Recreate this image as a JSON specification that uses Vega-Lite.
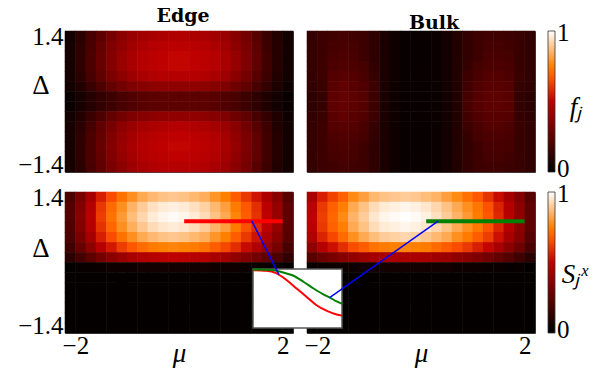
{
"$schema": "https://vega.github.io/schema/vega-lite/v6.json",
"background": "white",
"padding": {"left": 17, "top": 6, "right": 2, "bottom": 1},
"config": {
 "font": "Liberation Serif",
 "view": {"stroke": "#444", "strokeWidth": 1},
 "axis": {"labelFont": "Liberation Serif", "labelFontSize": 25, "labelColor": "#000", "titleFont": "Liberation Serif", "titleFontSize": 27, "titleFontWeight": "normal", "titleColor": "#000", "ticks": false, "domain": false, "grid": false, "labelFlush": false, "labelOverlap": false},
 "legend": {"orient": "right", "offset": 13, "padding": 0, "gradientLength": 141, "gradientThickness": 7, "gradientStrokeColor": "#333", "gradientStrokeWidth": 0.8, "labelFont": "Liberation Serif", "labelFontSize": 25, "labelColor": "#000", "labelOffset": 3},
 "title": {"font": "DejaVu Serif", "fontSize": 19, "fontWeight": "bold", "color": "#000", "baseline": "alphabetic", "offset": -2, "anchor": "middle"}
},
"datasets": {
"tl": [
{"x":-2.1,"y":1.3,"v":0.05},{"x":-1.9,"y":1.3,"v":0.11},{"x":-1.7,"y":1.3,"v":0.18},{"x":-1.5,"y":1.3,"v":0.24},{"x":-1.3,"y":1.3,"v":0.31},{"x":-1.1,"y":1.3,"v":0.36},{"x":-0.9,"y":1.3,"v":0.4},{"x":-0.7,"y":1.3,"v":0.42},{"x":-0.5,"y":1.3,"v":0.44},{"x":-0.3,"y":1.3,"v":0.45},{"x":-0.1,"y":1.3,"v":0.46},{"x":0.1,"y":1.3,"v":0.46},{"x":0.3,"y":1.3,"v":0.45},{"x":0.5,"y":1.3,"v":0.44},{"x":0.7,"y":1.3,"v":0.42},{"x":0.9,"y":1.3,"v":0.4},{"x":1.1,"y":1.3,"v":0.35},{"x":1.3,"y":1.3,"v":0.3},{"x":1.5,"y":1.3,"v":0.23},{"x":1.7,"y":1.3,"v":0.15},{"x":1.9,"y":1.3,"v":0.09},{"x":2.1,"y":1.3,"v":0.05},
{"x":-2.1,"y":1.1,"v":0.06},{"x":-1.9,"y":1.1,"v":0.12},{"x":-1.7,"y":1.1,"v":0.19},{"x":-1.5,"y":1.1,"v":0.26},{"x":-1.3,"y":1.1,"v":0.33},{"x":-1.1,"y":1.1,"v":0.38},{"x":-0.9,"y":1.1,"v":0.42},{"x":-0.7,"y":1.1,"v":0.45},{"x":-0.5,"y":1.1,"v":0.47},{"x":-0.3,"y":1.1,"v":0.48},{"x":-0.1,"y":1.1,"v":0.49},{"x":0.1,"y":1.1,"v":0.49},{"x":0.3,"y":1.1,"v":0.48},{"x":0.5,"y":1.1,"v":0.47},{"x":0.7,"y":1.1,"v":0.45},{"x":0.9,"y":1.1,"v":0.42},{"x":1.1,"y":1.1,"v":0.37},{"x":1.3,"y":1.1,"v":0.32},{"x":1.5,"y":1.1,"v":0.24},{"x":1.7,"y":1.1,"v":0.16},{"x":1.9,"y":1.1,"v":0.1},{"x":2.1,"y":1.1,"v":0.05},
{"x":-2.1,"y":0.9,"v":0.06},{"x":-1.9,"y":0.9,"v":0.12},{"x":-1.7,"y":0.9,"v":0.2},{"x":-1.5,"y":0.9,"v":0.27},{"x":-1.3,"y":0.9,"v":0.34},{"x":-1.1,"y":0.9,"v":0.4},{"x":-0.9,"y":0.9,"v":0.44},{"x":-0.7,"y":0.9,"v":0.47},{"x":-0.5,"y":0.9,"v":0.49},{"x":-0.3,"y":0.9,"v":0.5},{"x":-0.1,"y":0.9,"v":0.51},{"x":0.1,"y":0.9,"v":0.51},{"x":0.3,"y":0.9,"v":0.5},{"x":0.5,"y":0.9,"v":0.49},{"x":0.7,"y":0.9,"v":0.47},{"x":0.9,"y":0.9,"v":0.44},{"x":1.1,"y":0.9,"v":0.39},{"x":1.3,"y":0.9,"v":0.33},{"x":1.5,"y":0.9,"v":0.25},{"x":1.7,"y":0.9,"v":0.17},{"x":1.9,"y":0.9,"v":0.1},{"x":2.1,"y":0.9,"v":0.05},
{"x":-2.1,"y":0.7,"v":0.06},{"x":-1.9,"y":0.7,"v":0.12},{"x":-1.7,"y":0.7,"v":0.2},{"x":-1.5,"y":0.7,"v":0.27},{"x":-1.3,"y":0.7,"v":0.34},{"x":-1.1,"y":0.7,"v":0.4},{"x":-0.9,"y":0.7,"v":0.44},{"x":-0.7,"y":0.7,"v":0.47},{"x":-0.5,"y":0.7,"v":0.49},{"x":-0.3,"y":0.7,"v":0.5},{"x":-0.1,"y":0.7,"v":0.51},{"x":0.1,"y":0.7,"v":0.51},{"x":0.3,"y":0.7,"v":0.5},{"x":0.5,"y":0.7,"v":0.49},{"x":0.7,"y":0.7,"v":0.47},{"x":0.9,"y":0.7,"v":0.44},{"x":1.1,"y":0.7,"v":0.39},{"x":1.3,"y":0.7,"v":0.33},{"x":1.5,"y":0.7,"v":0.25},{"x":1.7,"y":0.7,"v":0.17},{"x":1.9,"y":0.7,"v":0.1},{"x":2.1,"y":0.7,"v":0.05},
{"x":-2.1,"y":0.5,"v":0.06},{"x":-1.9,"y":0.5,"v":0.11},{"x":-1.7,"y":0.5,"v":0.19},{"x":-1.5,"y":0.5,"v":0.25},{"x":-1.3,"y":0.5,"v":0.32},{"x":-1.1,"y":0.5,"v":0.37},{"x":-0.9,"y":0.5,"v":0.41},{"x":-0.7,"y":0.5,"v":0.44},{"x":-0.5,"y":0.5,"v":0.46},{"x":-0.3,"y":0.5,"v":0.47},{"x":-0.1,"y":0.5,"v":0.47},{"x":0.1,"y":0.5,"v":0.47},{"x":0.3,"y":0.5,"v":0.47},{"x":0.5,"y":0.5,"v":0.46},{"x":0.7,"y":0.5,"v":0.44},{"x":0.9,"y":0.5,"v":0.41},{"x":1.1,"y":0.5,"v":0.36},{"x":1.3,"y":0.5,"v":0.31},{"x":1.5,"y":0.5,"v":0.23},{"x":1.7,"y":0.5,"v":0.16},{"x":1.9,"y":0.5,"v":0.09},{"x":2.1,"y":0.5,"v":0.05},
{"x":-2.1,"y":0.3,"v":0.05},{"x":-1.9,"y":0.3,"v":0.09},{"x":-1.7,"y":0.3,"v":0.15},{"x":-1.5,"y":0.3,"v":0.2},{"x":-1.3,"y":0.3,"v":0.26},{"x":-1.1,"y":0.3,"v":0.3},{"x":-0.9,"y":0.3,"v":0.33},{"x":-0.7,"y":0.3,"v":0.35},{"x":-0.5,"y":0.3,"v":0.37},{"x":-0.3,"y":0.3,"v":0.38},{"x":-0.1,"y":0.3,"v":0.38},{"x":0.1,"y":0.3,"v":0.38},{"x":0.3,"y":0.3,"v":0.38},{"x":0.5,"y":0.3,"v":0.37},{"x":0.7,"y":0.3,"v":0.35},{"x":0.9,"y":0.3,"v":0.33},{"x":1.1,"y":0.3,"v":0.29},{"x":1.3,"y":0.3,"v":0.25},{"x":1.5,"y":0.3,"v":0.19},{"x":1.7,"y":0.3,"v":0.13},{"x":1.9,"y":0.3,"v":0.08},{"x":2.1,"y":0.3,"v":0.04},
{"x":-2.1,"y":0.1,"v":0.03},{"x":-1.9,"y":0.1,"v":0.06},{"x":-1.7,"y":0.1,"v":0.1},{"x":-1.5,"y":0.1,"v":0.13},{"x":-1.3,"y":0.1,"v":0.16},{"x":-1.1,"y":0.1,"v":0.19},{"x":-0.9,"y":0.1,"v":0.21},{"x":-0.7,"y":0.1,"v":0.23},{"x":-0.5,"y":0.1,"v":0.24},{"x":-0.3,"y":0.1,"v":0.24},{"x":-0.1,"y":0.1,"v":0.24},{"x":0.1,"y":0.1,"v":0.24},{"x":0.3,"y":0.1,"v":0.24},{"x":0.5,"y":0.1,"v":0.24},{"x":0.7,"y":0.1,"v":0.23},{"x":0.9,"y":0.1,"v":0.21},{"x":1.1,"y":0.1,"v":0.19},{"x":1.3,"y":0.1,"v":0.16},{"x":1.5,"y":0.1,"v":0.12},{"x":1.7,"y":0.1,"v":0.08},{"x":1.9,"y":0.1,"v":0.05},{"x":2.1,"y":0.1,"v":0.02},
{"x":-2.1,"y":-0.1,"v":0.03},{"x":-1.9,"y":-0.1,"v":0.06},{"x":-1.7,"y":-0.1,"v":0.1},{"x":-1.5,"y":-0.1,"v":0.13},{"x":-1.3,"y":-0.1,"v":0.16},{"x":-1.1,"y":-0.1,"v":0.19},{"x":-0.9,"y":-0.1,"v":0.21},{"x":-0.7,"y":-0.1,"v":0.23},{"x":-0.5,"y":-0.1,"v":0.24},{"x":-0.3,"y":-0.1,"v":0.24},{"x":-0.1,"y":-0.1,"v":0.24},{"x":0.1,"y":-0.1,"v":0.24},{"x":0.3,"y":-0.1,"v":0.24},{"x":0.5,"y":-0.1,"v":0.24},{"x":0.7,"y":-0.1,"v":0.23},{"x":0.9,"y":-0.1,"v":0.21},{"x":1.1,"y":-0.1,"v":0.19},{"x":1.3,"y":-0.1,"v":0.16},{"x":1.5,"y":-0.1,"v":0.12},{"x":1.7,"y":-0.1,"v":0.08},{"x":1.9,"y":-0.1,"v":0.05},{"x":2.1,"y":-0.1,"v":0.02},
{"x":-2.1,"y":-0.3,"v":0.05},{"x":-1.9,"y":-0.3,"v":0.09},{"x":-1.7,"y":-0.3,"v":0.15},{"x":-1.5,"y":-0.3,"v":0.2},{"x":-1.3,"y":-0.3,"v":0.26},{"x":-1.1,"y":-0.3,"v":0.3},{"x":-0.9,"y":-0.3,"v":0.33},{"x":-0.7,"y":-0.3,"v":0.35},{"x":-0.5,"y":-0.3,"v":0.37},{"x":-0.3,"y":-0.3,"v":0.38},{"x":-0.1,"y":-0.3,"v":0.38},{"x":0.1,"y":-0.3,"v":0.38},{"x":0.3,"y":-0.3,"v":0.38},{"x":0.5,"y":-0.3,"v":0.37},{"x":0.7,"y":-0.3,"v":0.35},{"x":0.9,"y":-0.3,"v":0.33},{"x":1.1,"y":-0.3,"v":0.29},{"x":1.3,"y":-0.3,"v":0.25},{"x":1.5,"y":-0.3,"v":0.19},{"x":1.7,"y":-0.3,"v":0.13},{"x":1.9,"y":-0.3,"v":0.08},{"x":2.1,"y":-0.3,"v":0.04},
{"x":-2.1,"y":-0.5,"v":0.06},{"x":-1.9,"y":-0.5,"v":0.11},{"x":-1.7,"y":-0.5,"v":0.18},{"x":-1.5,"y":-0.5,"v":0.25},{"x":-1.3,"y":-0.5,"v":0.31},{"x":-1.1,"y":-0.5,"v":0.37},{"x":-0.9,"y":-0.5,"v":0.4},{"x":-0.7,"y":-0.5,"v":0.43},{"x":-0.5,"y":-0.5,"v":0.45},{"x":-0.3,"y":-0.5,"v":0.46},{"x":-0.1,"y":-0.5,"v":0.47},{"x":0.1,"y":-0.5,"v":0.47},{"x":0.3,"y":-0.5,"v":0.46},{"x":0.5,"y":-0.5,"v":0.45},{"x":0.7,"y":-0.5,"v":0.43},{"x":0.9,"y":-0.5,"v":0.4},{"x":1.1,"y":-0.5,"v":0.36},{"x":1.3,"y":-0.5,"v":0.3},{"x":1.5,"y":-0.5,"v":0.23},{"x":1.7,"y":-0.5,"v":0.16},{"x":1.9,"y":-0.5,"v":0.09},{"x":2.1,"y":-0.5,"v":0.05},
{"x":-2.1,"y":-0.7,"v":0.06},{"x":-1.9,"y":-0.7,"v":0.12},{"x":-1.7,"y":-0.7,"v":0.2},{"x":-1.5,"y":-0.7,"v":0.26},{"x":-1.3,"y":-0.7,"v":0.33},{"x":-1.1,"y":-0.7,"v":0.39},{"x":-0.9,"y":-0.7,"v":0.43},{"x":-0.7,"y":-0.7,"v":0.46},{"x":-0.5,"y":-0.7,"v":0.48},{"x":-0.3,"y":-0.7,"v":0.49},{"x":-0.1,"y":-0.7,"v":0.5},{"x":0.1,"y":-0.7,"v":0.5},{"x":0.3,"y":-0.7,"v":0.49},{"x":0.5,"y":-0.7,"v":0.48},{"x":0.7,"y":-0.7,"v":0.46},{"x":0.9,"y":-0.7,"v":0.43},{"x":1.1,"y":-0.7,"v":0.38},{"x":1.3,"y":-0.7,"v":0.32},{"x":1.5,"y":-0.7,"v":0.25},{"x":1.7,"y":-0.7,"v":0.17},{"x":1.9,"y":-0.7,"v":0.1},{"x":2.1,"y":-0.7,"v":0.05},
{"x":-2.1,"y":-0.9,"v":0.06},{"x":-1.9,"y":-0.9,"v":0.12},{"x":-1.7,"y":-0.9,"v":0.2},{"x":-1.5,"y":-0.9,"v":0.27},{"x":-1.3,"y":-0.9,"v":0.34},{"x":-1.1,"y":-0.9,"v":0.4},{"x":-0.9,"y":-0.9,"v":0.44},{"x":-0.7,"y":-0.9,"v":0.47},{"x":-0.5,"y":-0.9,"v":0.49},{"x":-0.3,"y":-0.9,"v":0.5},{"x":-0.1,"y":-0.9,"v":0.51},{"x":0.1,"y":-0.9,"v":0.51},{"x":0.3,"y":-0.9,"v":0.5},{"x":0.5,"y":-0.9,"v":0.49},{"x":0.7,"y":-0.9,"v":0.47},{"x":0.9,"y":-0.9,"v":0.44},{"x":1.1,"y":-0.9,"v":0.39},{"x":1.3,"y":-0.9,"v":0.33},{"x":1.5,"y":-0.9,"v":0.25},{"x":1.7,"y":-0.9,"v":0.17},{"x":1.9,"y":-0.9,"v":0.1},{"x":2.1,"y":-0.9,"v":0.05},
{"x":-2.1,"y":-1.1,"v":0.06},{"x":-1.9,"y":-1.1,"v":0.12},{"x":-1.7,"y":-1.1,"v":0.2},{"x":-1.5,"y":-1.1,"v":0.26},{"x":-1.3,"y":-1.1,"v":0.33},{"x":-1.1,"y":-1.1,"v":0.39},{"x":-0.9,"y":-1.1,"v":0.43},{"x":-0.7,"y":-1.1,"v":0.46},{"x":-0.5,"y":-1.1,"v":0.48},{"x":-0.3,"y":-1.1,"v":0.49},{"x":-0.1,"y":-1.1,"v":0.5},{"x":0.1,"y":-1.1,"v":0.5},{"x":0.3,"y":-1.1,"v":0.49},{"x":0.5,"y":-1.1,"v":0.48},{"x":0.7,"y":-1.1,"v":0.46},{"x":0.9,"y":-1.1,"v":0.43},{"x":1.1,"y":-1.1,"v":0.38},{"x":1.3,"y":-1.1,"v":0.32},{"x":1.5,"y":-1.1,"v":0.25},{"x":1.7,"y":-1.1,"v":0.17},{"x":1.9,"y":-1.1,"v":0.1},{"x":2.1,"y":-1.1,"v":0.05},
{"x":-2.1,"y":-1.3,"v":0.06},{"x":-1.9,"y":-1.3,"v":0.11},{"x":-1.7,"y":-1.3,"v":0.19},{"x":-1.5,"y":-1.3,"v":0.25},{"x":-1.3,"y":-1.3,"v":0.32},{"x":-1.1,"y":-1.3,"v":0.37},{"x":-0.9,"y":-1.3,"v":0.41},{"x":-0.7,"y":-1.3,"v":0.44},{"x":-0.5,"y":-1.3,"v":0.46},{"x":-0.3,"y":-1.3,"v":0.47},{"x":-0.1,"y":-1.3,"v":0.47},{"x":0.1,"y":-1.3,"v":0.47},{"x":0.3,"y":-1.3,"v":0.47},{"x":0.5,"y":-1.3,"v":0.46},{"x":0.7,"y":-1.3,"v":0.44},{"x":0.9,"y":-1.3,"v":0.41},{"x":1.1,"y":-1.3,"v":0.36},{"x":1.3,"y":-1.3,"v":0.31},{"x":1.5,"y":-1.3,"v":0.23},{"x":1.7,"y":-1.3,"v":0.16},{"x":1.9,"y":-1.3,"v":0.09},{"x":2.1,"y":-1.3,"v":0.05}
],
"tr": [
{"x":-2.1,"y":1.3,"v":0.14},{"x":-1.9,"y":1.3,"v":0.16},{"x":-1.7,"y":1.3,"v":0.17},{"x":-1.5,"y":1.3,"v":0.18},{"x":-1.3,"y":1.3,"v":0.17},{"x":-1.1,"y":1.3,"v":0.16},{"x":-0.9,"y":1.3,"v":0.12},{"x":-0.7,"y":1.3,"v":0.07},{"x":-0.5,"y":1.3,"v":0.04},{"x":-0.3,"y":1.3,"v":0.02},{"x":-0.1,"y":1.3,"v":0.02},{"x":0.1,"y":1.3,"v":0.02},{"x":0.3,"y":1.3,"v":0.03},{"x":0.5,"y":1.3,"v":0.05},{"x":0.7,"y":1.3,"v":0.09},{"x":0.9,"y":1.3,"v":0.13},{"x":1.1,"y":1.3,"v":0.16},{"x":1.3,"y":1.3,"v":0.17},{"x":1.5,"y":1.3,"v":0.17},{"x":1.7,"y":1.3,"v":0.16},{"x":1.9,"y":1.3,"v":0.15},{"x":2.1,"y":1.3,"v":0.13},
{"x":-2.1,"y":1.1,"v":0.14},{"x":-1.9,"y":1.1,"v":0.16},{"x":-1.7,"y":1.1,"v":0.18},{"x":-1.5,"y":1.1,"v":0.19},{"x":-1.3,"y":1.1,"v":0.18},{"x":-1.1,"y":1.1,"v":0.16},{"x":-0.9,"y":1.1,"v":0.12},{"x":-0.7,"y":1.1,"v":0.07},{"x":-0.5,"y":1.1,"v":0.04},{"x":-0.3,"y":1.1,"v":0.02},{"x":-0.1,"y":1.1,"v":0.02},{"x":0.1,"y":1.1,"v":0.02},{"x":0.3,"y":1.1,"v":0.03},{"x":0.5,"y":1.1,"v":0.05},{"x":0.7,"y":1.1,"v":0.09},{"x":0.9,"y":1.1,"v":0.13},{"x":1.1,"y":1.1,"v":0.16},{"x":1.3,"y":1.1,"v":0.18},{"x":1.5,"y":1.1,"v":0.18},{"x":1.7,"y":1.1,"v":0.17},{"x":1.9,"y":1.1,"v":0.15},{"x":2.1,"y":1.1,"v":0.13},
{"x":-2.1,"y":0.9,"v":0.14},{"x":-1.9,"y":0.9,"v":0.16},{"x":-1.7,"y":0.9,"v":0.19},{"x":-1.5,"y":0.9,"v":0.2},{"x":-1.3,"y":0.9,"v":0.19},{"x":-1.1,"y":0.9,"v":0.16},{"x":-0.9,"y":0.9,"v":0.12},{"x":-0.7,"y":0.9,"v":0.07},{"x":-0.5,"y":0.9,"v":0.04},{"x":-0.3,"y":0.9,"v":0.02},{"x":-0.1,"y":0.9,"v":0.02},{"x":0.1,"y":0.9,"v":0.02},{"x":0.3,"y":0.9,"v":0.03},{"x":0.5,"y":0.9,"v":0.05},{"x":0.7,"y":0.9,"v":0.09},{"x":0.9,"y":0.9,"v":0.13},{"x":1.1,"y":0.9,"v":0.16},{"x":1.3,"y":0.9,"v":0.19},{"x":1.5,"y":0.9,"v":0.19},{"x":1.7,"y":0.9,"v":0.18},{"x":1.9,"y":0.9,"v":0.15},{"x":2.1,"y":0.9,"v":0.13},
{"x":-2.1,"y":0.7,"v":0.14},{"x":-1.9,"y":0.7,"v":0.16},{"x":-1.7,"y":0.7,"v":0.2},{"x":-1.5,"y":0.7,"v":0.21},{"x":-1.3,"y":0.7,"v":0.2},{"x":-1.1,"y":0.7,"v":0.18},{"x":-0.9,"y":0.7,"v":0.13},{"x":-0.7,"y":0.7,"v":0.07},{"x":-0.5,"y":0.7,"v":0.04},{"x":-0.3,"y":0.7,"v":0.02},{"x":-0.1,"y":0.7,"v":0.02},{"x":0.1,"y":0.7,"v":0.02},{"x":0.3,"y":0.7,"v":0.03},{"x":0.5,"y":0.7,"v":0.05},{"x":0.7,"y":0.7,"v":0.09},{"x":0.9,"y":0.7,"v":0.14},{"x":1.1,"y":0.7,"v":0.18},{"x":1.3,"y":0.7,"v":0.2},{"x":1.5,"y":0.7,"v":0.2},{"x":1.7,"y":0.7,"v":0.19},{"x":1.9,"y":0.7,"v":0.15},{"x":2.1,"y":0.7,"v":0.13},
{"x":-2.1,"y":0.5,"v":0.14},{"x":-1.9,"y":0.5,"v":0.16},{"x":-1.7,"y":0.5,"v":0.22},{"x":-1.5,"y":0.5,"v":0.23},{"x":-1.3,"y":0.5,"v":0.22},{"x":-1.1,"y":0.5,"v":0.19},{"x":-0.9,"y":0.5,"v":0.14},{"x":-0.7,"y":0.5,"v":0.07},{"x":-0.5,"y":0.5,"v":0.04},{"x":-0.3,"y":0.5,"v":0.02},{"x":-0.1,"y":0.5,"v":0.02},{"x":0.1,"y":0.5,"v":0.02},{"x":0.3,"y":0.5,"v":0.03},{"x":0.5,"y":0.5,"v":0.05},{"x":0.7,"y":0.5,"v":0.09},{"x":0.9,"y":0.5,"v":0.16},{"x":1.1,"y":0.5,"v":0.19},{"x":1.3,"y":0.5,"v":0.22},{"x":1.5,"y":0.5,"v":0.22},{"x":1.7,"y":0.5,"v":0.2},{"x":1.9,"y":0.5,"v":0.15},{"x":2.1,"y":0.5,"v":0.13},
{"x":-2.1,"y":0.3,"v":0.13},{"x":-1.9,"y":0.3,"v":0.15},{"x":-1.7,"y":0.3,"v":0.23},{"x":-1.5,"y":0.3,"v":0.25},{"x":-1.3,"y":0.3,"v":0.23},{"x":-1.1,"y":0.3,"v":0.21},{"x":-0.9,"y":0.3,"v":0.16},{"x":-0.7,"y":0.3,"v":0.07},{"x":-0.5,"y":0.3,"v":0.04},{"x":-0.3,"y":0.3,"v":0.02},{"x":-0.1,"y":0.3,"v":0.02},{"x":0.1,"y":0.3,"v":0.02},{"x":0.3,"y":0.3,"v":0.03},{"x":0.5,"y":0.3,"v":0.05},{"x":0.7,"y":0.3,"v":0.09},{"x":0.9,"y":0.3,"v":0.17},{"x":1.1,"y":0.3,"v":0.21},{"x":1.3,"y":0.3,"v":0.23},{"x":1.5,"y":0.3,"v":0.23},{"x":1.7,"y":0.3,"v":0.22},{"x":1.9,"y":0.3,"v":0.14},{"x":2.1,"y":0.3,"v":0.12},
{"x":-2.1,"y":0.1,"v":0.12},{"x":-1.9,"y":0.1,"v":0.14},{"x":-1.7,"y":0.1,"v":0.24},{"x":-1.5,"y":0.1,"v":0.26},{"x":-1.3,"y":0.1,"v":0.24},{"x":-1.1,"y":0.1,"v":0.22},{"x":-0.9,"y":0.1,"v":0.16},{"x":-0.7,"y":0.1,"v":0.07},{"x":-0.5,"y":0.1,"v":0.04},{"x":-0.3,"y":0.1,"v":0.02},{"x":-0.1,"y":0.1,"v":0.02},{"x":0.1,"y":0.1,"v":0.02},{"x":0.3,"y":0.1,"v":0.03},{"x":0.5,"y":0.1,"v":0.05},{"x":0.7,"y":0.1,"v":0.09},{"x":0.9,"y":0.1,"v":0.18},{"x":1.1,"y":0.1,"v":0.22},{"x":1.3,"y":0.1,"v":0.24},{"x":1.5,"y":0.1,"v":0.24},{"x":1.7,"y":0.1,"v":0.23},{"x":1.9,"y":0.1,"v":0.13},{"x":2.1,"y":0.1,"v":0.11},
{"x":-2.1,"y":-0.1,"v":0.12},{"x":-1.9,"y":-0.1,"v":0.14},{"x":-1.7,"y":-0.1,"v":0.24},{"x":-1.5,"y":-0.1,"v":0.26},{"x":-1.3,"y":-0.1,"v":0.24},{"x":-1.1,"y":-0.1,"v":0.22},{"x":-0.9,"y":-0.1,"v":0.16},{"x":-0.7,"y":-0.1,"v":0.07},{"x":-0.5,"y":-0.1,"v":0.04},{"x":-0.3,"y":-0.1,"v":0.02},{"x":-0.1,"y":-0.1,"v":0.02},{"x":0.1,"y":-0.1,"v":0.02},{"x":0.3,"y":-0.1,"v":0.03},{"x":0.5,"y":-0.1,"v":0.05},{"x":0.7,"y":-0.1,"v":0.09},{"x":0.9,"y":-0.1,"v":0.18},{"x":1.1,"y":-0.1,"v":0.22},{"x":1.3,"y":-0.1,"v":0.24},{"x":1.5,"y":-0.1,"v":0.24},{"x":1.7,"y":-0.1,"v":0.23},{"x":1.9,"y":-0.1,"v":0.13},{"x":2.1,"y":-0.1,"v":0.11},
{"x":-2.1,"y":-0.3,"v":0.13},{"x":-1.9,"y":-0.3,"v":0.15},{"x":-1.7,"y":-0.3,"v":0.23},{"x":-1.5,"y":-0.3,"v":0.25},{"x":-1.3,"y":-0.3,"v":0.23},{"x":-1.1,"y":-0.3,"v":0.21},{"x":-0.9,"y":-0.3,"v":0.16},{"x":-0.7,"y":-0.3,"v":0.07},{"x":-0.5,"y":-0.3,"v":0.04},{"x":-0.3,"y":-0.3,"v":0.02},{"x":-0.1,"y":-0.3,"v":0.02},{"x":0.1,"y":-0.3,"v":0.02},{"x":0.3,"y":-0.3,"v":0.03},{"x":0.5,"y":-0.3,"v":0.05},{"x":0.7,"y":-0.3,"v":0.09},{"x":0.9,"y":-0.3,"v":0.17},{"x":1.1,"y":-0.3,"v":0.21},{"x":1.3,"y":-0.3,"v":0.23},{"x":1.5,"y":-0.3,"v":0.23},{"x":1.7,"y":-0.3,"v":0.22},{"x":1.9,"y":-0.3,"v":0.14},{"x":2.1,"y":-0.3,"v":0.12},
{"x":-2.1,"y":-0.5,"v":0.14},{"x":-1.9,"y":-0.5,"v":0.16},{"x":-1.7,"y":-0.5,"v":0.22},{"x":-1.5,"y":-0.5,"v":0.23},{"x":-1.3,"y":-0.5,"v":0.22},{"x":-1.1,"y":-0.5,"v":0.19},{"x":-0.9,"y":-0.5,"v":0.14},{"x":-0.7,"y":-0.5,"v":0.07},{"x":-0.5,"y":-0.5,"v":0.04},{"x":-0.3,"y":-0.5,"v":0.02},{"x":-0.1,"y":-0.5,"v":0.02},{"x":0.1,"y":-0.5,"v":0.02},{"x":0.3,"y":-0.5,"v":0.03},{"x":0.5,"y":-0.5,"v":0.05},{"x":0.7,"y":-0.5,"v":0.09},{"x":0.9,"y":-0.5,"v":0.16},{"x":1.1,"y":-0.5,"v":0.19},{"x":1.3,"y":-0.5,"v":0.22},{"x":1.5,"y":-0.5,"v":0.22},{"x":1.7,"y":-0.5,"v":0.2},{"x":1.9,"y":-0.5,"v":0.15},{"x":2.1,"y":-0.5,"v":0.13},
{"x":-2.1,"y":-0.7,"v":0.14},{"x":-1.9,"y":-0.7,"v":0.16},{"x":-1.7,"y":-0.7,"v":0.2},{"x":-1.5,"y":-0.7,"v":0.21},{"x":-1.3,"y":-0.7,"v":0.2},{"x":-1.1,"y":-0.7,"v":0.18},{"x":-0.9,"y":-0.7,"v":0.13},{"x":-0.7,"y":-0.7,"v":0.07},{"x":-0.5,"y":-0.7,"v":0.04},{"x":-0.3,"y":-0.7,"v":0.02},{"x":-0.1,"y":-0.7,"v":0.02},{"x":0.1,"y":-0.7,"v":0.02},{"x":0.3,"y":-0.7,"v":0.03},{"x":0.5,"y":-0.7,"v":0.05},{"x":0.7,"y":-0.7,"v":0.09},{"x":0.9,"y":-0.7,"v":0.14},{"x":1.1,"y":-0.7,"v":0.18},{"x":1.3,"y":-0.7,"v":0.2},{"x":1.5,"y":-0.7,"v":0.2},{"x":1.7,"y":-0.7,"v":0.19},{"x":1.9,"y":-0.7,"v":0.15},{"x":2.1,"y":-0.7,"v":0.13},
{"x":-2.1,"y":-0.9,"v":0.14},{"x":-1.9,"y":-0.9,"v":0.16},{"x":-1.7,"y":-0.9,"v":0.19},{"x":-1.5,"y":-0.9,"v":0.2},{"x":-1.3,"y":-0.9,"v":0.19},{"x":-1.1,"y":-0.9,"v":0.16},{"x":-0.9,"y":-0.9,"v":0.12},{"x":-0.7,"y":-0.9,"v":0.07},{"x":-0.5,"y":-0.9,"v":0.04},{"x":-0.3,"y":-0.9,"v":0.02},{"x":-0.1,"y":-0.9,"v":0.02},{"x":0.1,"y":-0.9,"v":0.02},{"x":0.3,"y":-0.9,"v":0.03},{"x":0.5,"y":-0.9,"v":0.05},{"x":0.7,"y":-0.9,"v":0.09},{"x":0.9,"y":-0.9,"v":0.13},{"x":1.1,"y":-0.9,"v":0.16},{"x":1.3,"y":-0.9,"v":0.19},{"x":1.5,"y":-0.9,"v":0.19},{"x":1.7,"y":-0.9,"v":0.18},{"x":1.9,"y":-0.9,"v":0.15},{"x":2.1,"y":-0.9,"v":0.13},
{"x":-2.1,"y":-1.1,"v":0.14},{"x":-1.9,"y":-1.1,"v":0.16},{"x":-1.7,"y":-1.1,"v":0.18},{"x":-1.5,"y":-1.1,"v":0.19},{"x":-1.3,"y":-1.1,"v":0.18},{"x":-1.1,"y":-1.1,"v":0.16},{"x":-0.9,"y":-1.1,"v":0.12},{"x":-0.7,"y":-1.1,"v":0.07},{"x":-0.5,"y":-1.1,"v":0.04},{"x":-0.3,"y":-1.1,"v":0.02},{"x":-0.1,"y":-1.1,"v":0.02},{"x":0.1,"y":-1.1,"v":0.02},{"x":0.3,"y":-1.1,"v":0.03},{"x":0.5,"y":-1.1,"v":0.05},{"x":0.7,"y":-1.1,"v":0.09},{"x":0.9,"y":-1.1,"v":0.13},{"x":1.1,"y":-1.1,"v":0.16},{"x":1.3,"y":-1.1,"v":0.18},{"x":1.5,"y":-1.1,"v":0.18},{"x":1.7,"y":-1.1,"v":0.17},{"x":1.9,"y":-1.1,"v":0.15},{"x":2.1,"y":-1.1,"v":0.13},
{"x":-2.1,"y":-1.3,"v":0.14},{"x":-1.9,"y":-1.3,"v":0.16},{"x":-1.7,"y":-1.3,"v":0.17},{"x":-1.5,"y":-1.3,"v":0.18},{"x":-1.3,"y":-1.3,"v":0.17},{"x":-1.1,"y":-1.3,"v":0.16},{"x":-0.9,"y":-1.3,"v":0.12},{"x":-0.7,"y":-1.3,"v":0.07},{"x":-0.5,"y":-1.3,"v":0.04},{"x":-0.3,"y":-1.3,"v":0.02},{"x":-0.1,"y":-1.3,"v":0.02},{"x":0.1,"y":-1.3,"v":0.02},{"x":0.3,"y":-1.3,"v":0.03},{"x":0.5,"y":-1.3,"v":0.05},{"x":0.7,"y":-1.3,"v":0.09},{"x":0.9,"y":-1.3,"v":0.13},{"x":1.1,"y":-1.3,"v":0.16},{"x":1.3,"y":-1.3,"v":0.17},{"x":1.5,"y":-1.3,"v":0.17},{"x":1.7,"y":-1.3,"v":0.16},{"x":1.9,"y":-1.3,"v":0.15},{"x":2.1,"y":-1.3,"v":0.13}
],
"bl": [
{"x":-2.1,"y":1.3,"v":0.2},{"x":-1.9,"y":1.3,"v":0.32},{"x":-1.7,"y":1.3,"v":0.43},{"x":-1.5,"y":1.3,"v":0.56},{"x":-1.3,"y":1.3,"v":0.65},{"x":-1.1,"y":1.3,"v":0.72},{"x":-0.9,"y":1.3,"v":0.78},{"x":-0.7,"y":1.3,"v":0.83},{"x":-0.5,"y":1.3,"v":0.86},{"x":-0.3,"y":1.3,"v":0.88},{"x":-0.1,"y":1.3,"v":0.89},{"x":0.1,"y":1.3,"v":0.88},{"x":0.3,"y":1.3,"v":0.86},{"x":0.5,"y":1.3,"v":0.84},{"x":0.7,"y":1.3,"v":0.79},{"x":0.9,"y":1.3,"v":0.75},{"x":1.1,"y":1.3,"v":0.68},{"x":1.3,"y":1.3,"v":0.61},{"x":1.5,"y":1.3,"v":0.54},{"x":1.7,"y":1.3,"v":0.45},{"x":1.9,"y":1.3,"v":0.36},{"x":2.1,"y":1.3,"v":0.23},
{"x":-2.1,"y":1.1,"v":0.22},{"x":-1.9,"y":1.1,"v":0.34},{"x":-1.7,"y":1.1,"v":0.47},{"x":-1.5,"y":1.1,"v":0.61},{"x":-1.3,"y":1.1,"v":0.71},{"x":-1.1,"y":1.1,"v":0.78},{"x":-0.9,"y":1.1,"v":0.85},{"x":-0.7,"y":1.1,"v":0.9},{"x":-0.5,"y":1.1,"v":0.94},{"x":-0.3,"y":1.1,"v":0.96},{"x":-0.1,"y":1.1,"v":0.97},{"x":0.1,"y":1.1,"v":0.96},{"x":0.3,"y":1.1,"v":0.94},{"x":0.5,"y":1.1,"v":0.91},{"x":0.7,"y":1.1,"v":0.86},{"x":0.9,"y":1.1,"v":0.81},{"x":1.1,"y":1.1,"v":0.74},{"x":1.3,"y":1.1,"v":0.67},{"x":1.5,"y":1.1,"v":0.59},{"x":1.7,"y":1.1,"v":0.49},{"x":1.9,"y":1.1,"v":0.39},{"x":2.1,"y":1.1,"v":0.25},
{"x":-2.1,"y":0.9,"v":0.22},{"x":-1.9,"y":0.9,"v":0.35},{"x":-1.7,"y":0.9,"v":0.48},{"x":-1.5,"y":0.9,"v":0.62},{"x":-1.3,"y":0.9,"v":0.72},{"x":-1.1,"y":0.9,"v":0.8},{"x":-0.9,"y":0.9,"v":0.87},{"x":-0.7,"y":0.9,"v":0.92},{"x":-0.5,"y":0.9,"v":0.96},{"x":-0.3,"y":0.9,"v":0.98},{"x":-0.1,"y":0.9,"v":0.99},{"x":0.1,"y":0.9,"v":0.98},{"x":0.3,"y":0.9,"v":0.96},{"x":0.5,"y":0.9,"v":0.93},{"x":0.7,"y":0.9,"v":0.88},{"x":0.9,"y":0.9,"v":0.83},{"x":1.1,"y":0.9,"v":0.76},{"x":1.3,"y":0.9,"v":0.68},{"x":1.5,"y":0.9,"v":0.6},{"x":1.7,"y":0.9,"v":0.5},{"x":1.9,"y":0.9,"v":0.4},{"x":2.1,"y":0.9,"v":0.25},
{"x":-2.1,"y":0.7,"v":0.21},{"x":-1.9,"y":0.7,"v":0.34},{"x":-1.7,"y":0.7,"v":0.47},{"x":-1.5,"y":0.7,"v":0.6},{"x":-1.3,"y":0.7,"v":0.7},{"x":-1.1,"y":0.7,"v":0.78},{"x":-0.9,"y":0.7,"v":0.84},{"x":-0.7,"y":0.7,"v":0.89},{"x":-0.5,"y":0.7,"v":0.93},{"x":-0.3,"y":0.7,"v":0.95},{"x":-0.1,"y":0.7,"v":0.96},{"x":0.1,"y":0.7,"v":0.95},{"x":0.3,"y":0.7,"v":0.93},{"x":0.5,"y":0.7,"v":0.9},{"x":0.7,"y":0.7,"v":0.85},{"x":0.9,"y":0.7,"v":0.81},{"x":1.1,"y":0.7,"v":0.74},{"x":1.3,"y":0.7,"v":0.66},{"x":1.5,"y":0.7,"v":0.58},{"x":1.7,"y":0.7,"v":0.49},{"x":1.9,"y":0.7,"v":0.39},{"x":2.1,"y":0.7,"v":0.24},
{"x":-2.1,"y":0.5,"v":0.2},{"x":-1.9,"y":0.5,"v":0.32},{"x":-1.7,"y":0.5,"v":0.43},{"x":-1.5,"y":0.5,"v":0.56},{"x":-1.3,"y":0.5,"v":0.65},{"x":-1.1,"y":0.5,"v":0.72},{"x":-0.9,"y":0.5,"v":0.78},{"x":-0.7,"y":0.5,"v":0.83},{"x":-0.5,"y":0.5,"v":0.86},{"x":-0.3,"y":0.5,"v":0.88},{"x":-0.1,"y":0.5,"v":0.89},{"x":0.1,"y":0.5,"v":0.88},{"x":0.3,"y":0.5,"v":0.86},{"x":0.5,"y":0.5,"v":0.84},{"x":0.7,"y":0.5,"v":0.79},{"x":0.9,"y":0.5,"v":0.75},{"x":1.1,"y":0.5,"v":0.68},{"x":1.3,"y":0.5,"v":0.61},{"x":1.5,"y":0.5,"v":0.54},{"x":1.7,"y":0.5,"v":0.45},{"x":1.9,"y":0.5,"v":0.36},{"x":2.1,"y":0.5,"v":0.23},
{"x":-2.1,"y":0.3,"v":0.17},{"x":-1.9,"y":0.3,"v":0.27},{"x":-1.7,"y":0.3,"v":0.37},{"x":-1.5,"y":0.3,"v":0.48},{"x":-1.3,"y":0.3,"v":0.55},{"x":-1.1,"y":0.3,"v":0.62},{"x":-0.9,"y":0.3,"v":0.67},{"x":-0.7,"y":0.3,"v":0.71},{"x":-0.5,"y":0.3,"v":0.74},{"x":-0.3,"y":0.3,"v":0.75},{"x":-0.1,"y":0.3,"v":0.76},{"x":0.1,"y":0.3,"v":0.75},{"x":0.3,"y":0.3,"v":0.74},{"x":0.5,"y":0.3,"v":0.72},{"x":0.7,"y":0.3,"v":0.68},{"x":0.9,"y":0.3,"v":0.64},{"x":1.1,"y":0.3,"v":0.59},{"x":1.3,"y":0.3,"v":0.52},{"x":1.5,"y":0.3,"v":0.46},{"x":1.7,"y":0.3,"v":0.39},{"x":1.9,"y":0.3,"v":0.31},{"x":2.1,"y":0.3,"v":0.19},
{"x":-2.1,"y":0.1,"v":0.11},{"x":-1.9,"y":0.1,"v":0.18},{"x":-1.7,"y":0.1,"v":0.24},{"x":-1.5,"y":0.1,"v":0.31},{"x":-1.3,"y":0.1,"v":0.36},{"x":-1.1,"y":0.1,"v":0.4},{"x":-0.9,"y":0.1,"v":0.44},{"x":-0.7,"y":0.1,"v":0.46},{"x":-0.5,"y":0.1,"v":0.48},{"x":-0.3,"y":0.1,"v":0.49},{"x":-0.1,"y":0.1,"v":0.5},{"x":0.1,"y":0.1,"v":0.49},{"x":0.3,"y":0.1,"v":0.48},{"x":0.5,"y":0.1,"v":0.47},{"x":0.7,"y":0.1,"v":0.44},{"x":0.9,"y":0.1,"v":0.42},{"x":1.1,"y":0.1,"v":0.38},{"x":1.3,"y":0.1,"v":0.34},{"x":1.5,"y":0.1,"v":0.3},{"x":1.7,"y":0.1,"v":0.25},{"x":1.9,"y":0.1,"v":0.2},{"x":2.1,"y":0.1,"v":0.13},
{"x":-2.1,"y":-0.1,"v":0.01},{"x":-1.9,"y":-0.1,"v":0.02},{"x":-1.7,"y":-0.1,"v":0.02},{"x":-1.5,"y":-0.1,"v":0.03},{"x":-1.3,"y":-0.1,"v":0.04},{"x":-1.1,"y":-0.1,"v":0.04},{"x":-0.9,"y":-0.1,"v":0.04},{"x":-0.7,"y":-0.1,"v":0.05},{"x":-0.5,"y":-0.1,"v":0.05},{"x":-0.3,"y":-0.1,"v":0.05},{"x":-0.1,"y":-0.1,"v":0.05},{"x":0.1,"y":-0.1,"v":0.05},{"x":0.3,"y":-0.1,"v":0.05},{"x":0.5,"y":-0.1,"v":0.05},{"x":0.7,"y":-0.1,"v":0.04},{"x":0.9,"y":-0.1,"v":0.04},{"x":1.1,"y":-0.1,"v":0.04},{"x":1.3,"y":-0.1,"v":0.03},{"x":1.5,"y":-0.1,"v":0.03},{"x":1.7,"y":-0.1,"v":0.03},{"x":1.9,"y":-0.1,"v":0.02},{"x":2.1,"y":-0.1,"v":0.01},
{"x":-2.1,"y":-0.3,"v":0.01},{"x":-1.9,"y":-0.3,"v":0.01},{"x":-1.7,"y":-0.3,"v":0.01},{"x":-1.5,"y":-0.3,"v":0.01},{"x":-1.3,"y":-0.3,"v":0.01},{"x":-1.1,"y":-0.3,"v":0.01},{"x":-0.9,"y":-0.3,"v":0.01},{"x":-0.7,"y":-0.3,"v":0.01},{"x":-0.5,"y":-0.3,"v":0.01},{"x":-0.3,"y":-0.3,"v":0.01},{"x":-0.1,"y":-0.3,"v":0.01},{"x":0.1,"y":-0.3,"v":0.01},{"x":0.3,"y":-0.3,"v":0.01},{"x":0.5,"y":-0.3,"v":0.01},{"x":0.7,"y":-0.3,"v":0.01},{"x":0.9,"y":-0.3,"v":0.01},{"x":1.1,"y":-0.3,"v":0.01},{"x":1.3,"y":-0.3,"v":0.01},{"x":1.5,"y":-0.3,"v":0.01},{"x":1.7,"y":-0.3,"v":0.01},{"x":1.9,"y":-0.3,"v":0.01},{"x":2.1,"y":-0.3,"v":0.01},
{"x":-2.1,"y":-0.5,"v":0.01},{"x":-1.9,"y":-0.5,"v":0.01},{"x":-1.7,"y":-0.5,"v":0.01},{"x":-1.5,"y":-0.5,"v":0.01},{"x":-1.3,"y":-0.5,"v":0.01},{"x":-1.1,"y":-0.5,"v":0.01},{"x":-0.9,"y":-0.5,"v":0.01},{"x":-0.7,"y":-0.5,"v":0.01},{"x":-0.5,"y":-0.5,"v":0.01},{"x":-0.3,"y":-0.5,"v":0.01},{"x":-0.1,"y":-0.5,"v":0.01},{"x":0.1,"y":-0.5,"v":0.01},{"x":0.3,"y":-0.5,"v":0.01},{"x":0.5,"y":-0.5,"v":0.01},{"x":0.7,"y":-0.5,"v":0.01},{"x":0.9,"y":-0.5,"v":0.01},{"x":1.1,"y":-0.5,"v":0.01},{"x":1.3,"y":-0.5,"v":0.01},{"x":1.5,"y":-0.5,"v":0.01},{"x":1.7,"y":-0.5,"v":0.01},{"x":1.9,"y":-0.5,"v":0.01},{"x":2.1,"y":-0.5,"v":0.01},
{"x":-2.1,"y":-0.7,"v":0.01},{"x":-1.9,"y":-0.7,"v":0.01},{"x":-1.7,"y":-0.7,"v":0.01},{"x":-1.5,"y":-0.7,"v":0.01},{"x":-1.3,"y":-0.7,"v":0.01},{"x":-1.1,"y":-0.7,"v":0.01},{"x":-0.9,"y":-0.7,"v":0.01},{"x":-0.7,"y":-0.7,"v":0.01},{"x":-0.5,"y":-0.7,"v":0.01},{"x":-0.3,"y":-0.7,"v":0.01},{"x":-0.1,"y":-0.7,"v":0.01},{"x":0.1,"y":-0.7,"v":0.01},{"x":0.3,"y":-0.7,"v":0.01},{"x":0.5,"y":-0.7,"v":0.01},{"x":0.7,"y":-0.7,"v":0.01},{"x":0.9,"y":-0.7,"v":0.01},{"x":1.1,"y":-0.7,"v":0.01},{"x":1.3,"y":-0.7,"v":0.01},{"x":1.5,"y":-0.7,"v":0.01},{"x":1.7,"y":-0.7,"v":0.01},{"x":1.9,"y":-0.7,"v":0.01},{"x":2.1,"y":-0.7,"v":0.01},
{"x":-2.1,"y":-0.9,"v":0.01},{"x":-1.9,"y":-0.9,"v":0.01},{"x":-1.7,"y":-0.9,"v":0.01},{"x":-1.5,"y":-0.9,"v":0.01},{"x":-1.3,"y":-0.9,"v":0.01},{"x":-1.1,"y":-0.9,"v":0.01},{"x":-0.9,"y":-0.9,"v":0.01},{"x":-0.7,"y":-0.9,"v":0.01},{"x":-0.5,"y":-0.9,"v":0.01},{"x":-0.3,"y":-0.9,"v":0.01},{"x":-0.1,"y":-0.9,"v":0.01},{"x":0.1,"y":-0.9,"v":0.01},{"x":0.3,"y":-0.9,"v":0.01},{"x":0.5,"y":-0.9,"v":0.01},{"x":0.7,"y":-0.9,"v":0.01},{"x":0.9,"y":-0.9,"v":0.01},{"x":1.1,"y":-0.9,"v":0.01},{"x":1.3,"y":-0.9,"v":0.01},{"x":1.5,"y":-0.9,"v":0.01},{"x":1.7,"y":-0.9,"v":0.01},{"x":1.9,"y":-0.9,"v":0.01},{"x":2.1,"y":-0.9,"v":0.01},
{"x":-2.1,"y":-1.1,"v":0.01},{"x":-1.9,"y":-1.1,"v":0.01},{"x":-1.7,"y":-1.1,"v":0.01},{"x":-1.5,"y":-1.1,"v":0.01},{"x":-1.3,"y":-1.1,"v":0.01},{"x":-1.1,"y":-1.1,"v":0.01},{"x":-0.9,"y":-1.1,"v":0.01},{"x":-0.7,"y":-1.1,"v":0.01},{"x":-0.5,"y":-1.1,"v":0.01},{"x":-0.3,"y":-1.1,"v":0.01},{"x":-0.1,"y":-1.1,"v":0.01},{"x":0.1,"y":-1.1,"v":0.01},{"x":0.3,"y":-1.1,"v":0.01},{"x":0.5,"y":-1.1,"v":0.01},{"x":0.7,"y":-1.1,"v":0.01},{"x":0.9,"y":-1.1,"v":0.01},{"x":1.1,"y":-1.1,"v":0.01},{"x":1.3,"y":-1.1,"v":0.01},{"x":1.5,"y":-1.1,"v":0.01},{"x":1.7,"y":-1.1,"v":0.01},{"x":1.9,"y":-1.1,"v":0.01},{"x":2.1,"y":-1.1,"v":0.01},
{"x":-2.1,"y":-1.3,"v":0.01},{"x":-1.9,"y":-1.3,"v":0.01},{"x":-1.7,"y":-1.3,"v":0.01},{"x":-1.5,"y":-1.3,"v":0.01},{"x":-1.3,"y":-1.3,"v":0.01},{"x":-1.1,"y":-1.3,"v":0.01},{"x":-0.9,"y":-1.3,"v":0.01},{"x":-0.7,"y":-1.3,"v":0.01},{"x":-0.5,"y":-1.3,"v":0.01},{"x":-0.3,"y":-1.3,"v":0.01},{"x":-0.1,"y":-1.3,"v":0.01},{"x":0.1,"y":-1.3,"v":0.01},{"x":0.3,"y":-1.3,"v":0.01},{"x":0.5,"y":-1.3,"v":0.01},{"x":0.7,"y":-1.3,"v":0.01},{"x":0.9,"y":-1.3,"v":0.01},{"x":1.1,"y":-1.3,"v":0.01},{"x":1.3,"y":-1.3,"v":0.01},{"x":1.5,"y":-1.3,"v":0.01},{"x":1.7,"y":-1.3,"v":0.01},{"x":1.9,"y":-1.3,"v":0.01},{"x":2.1,"y":-1.3,"v":0.01}
],
"br": [
{"x":-2.1,"y":1.3,"v":0.45},{"x":-1.9,"y":1.3,"v":0.56},{"x":-1.7,"y":1.3,"v":0.63},{"x":-1.5,"y":1.3,"v":0.69},{"x":-1.3,"y":1.3,"v":0.77},{"x":-1.1,"y":1.3,"v":0.81},{"x":-0.9,"y":1.3,"v":0.86},{"x":-0.7,"y":1.3,"v":0.88},{"x":-0.5,"y":1.3,"v":0.89},{"x":-0.3,"y":1.3,"v":0.9},{"x":-0.1,"y":1.3,"v":0.89},{"x":0.1,"y":1.3,"v":0.87},{"x":0.3,"y":1.3,"v":0.85},{"x":0.5,"y":1.3,"v":0.81},{"x":0.7,"y":1.3,"v":0.77},{"x":0.9,"y":1.3,"v":0.72},{"x":1.1,"y":1.3,"v":0.67},{"x":1.3,"y":1.3,"v":0.6},{"x":1.5,"y":1.3,"v":0.52},{"x":1.7,"y":1.3,"v":0.43},{"x":1.9,"y":1.3,"v":0.34},{"x":2.1,"y":1.3,"v":0.23},
{"x":-2.1,"y":1.1,"v":0.49},{"x":-1.9,"y":1.1,"v":0.61},{"x":-1.7,"y":1.1,"v":0.69},{"x":-1.5,"y":1.1,"v":0.75},{"x":-1.3,"y":1.1,"v":0.83},{"x":-1.1,"y":1.1,"v":0.88},{"x":-0.9,"y":1.1,"v":0.93},{"x":-0.7,"y":1.1,"v":0.96},{"x":-0.5,"y":1.1,"v":0.97},{"x":-0.3,"y":1.1,"v":0.98},{"x":-0.1,"y":1.1,"v":0.97},{"x":0.1,"y":1.1,"v":0.95},{"x":0.3,"y":1.1,"v":0.92},{"x":0.5,"y":1.1,"v":0.88},{"x":0.7,"y":1.1,"v":0.83},{"x":0.9,"y":1.1,"v":0.78},{"x":1.1,"y":1.1,"v":0.73},{"x":1.3,"y":1.1,"v":0.66},{"x":1.5,"y":1.1,"v":0.57},{"x":1.7,"y":1.1,"v":0.47},{"x":1.9,"y":1.1,"v":0.37},{"x":2.1,"y":1.1,"v":0.25},
{"x":-2.1,"y":0.9,"v":0.5},{"x":-1.9,"y":0.9,"v":0.62},{"x":-1.7,"y":0.9,"v":0.7},{"x":-1.5,"y":0.9,"v":0.77},{"x":-1.3,"y":0.9,"v":0.85},{"x":-1.1,"y":0.9,"v":0.9},{"x":-0.9,"y":0.9,"v":0.95},{"x":-0.7,"y":0.9,"v":0.98},{"x":-0.5,"y":0.9,"v":0.99},{"x":-0.3,"y":0.9,"v":1},{"x":-0.1,"y":0.9,"v":0.99},{"x":0.1,"y":0.9,"v":0.97},{"x":0.3,"y":0.9,"v":0.94},{"x":0.5,"y":0.9,"v":0.9},{"x":0.7,"y":0.9,"v":0.85},{"x":0.9,"y":0.9,"v":0.8},{"x":1.1,"y":0.9,"v":0.74},{"x":1.3,"y":0.9,"v":0.67},{"x":1.5,"y":0.9,"v":0.58},{"x":1.7,"y":0.9,"v":0.48},{"x":1.9,"y":0.9,"v":0.38},{"x":2.1,"y":0.9,"v":0.25},
{"x":-2.1,"y":0.7,"v":0.49},{"x":-1.9,"y":0.7,"v":0.61},{"x":-1.7,"y":0.7,"v":0.69},{"x":-1.5,"y":0.7,"v":0.75},{"x":-1.3,"y":0.7,"v":0.83},{"x":-1.1,"y":0.7,"v":0.88},{"x":-0.9,"y":0.7,"v":0.93},{"x":-0.7,"y":0.7,"v":0.96},{"x":-0.5,"y":0.7,"v":0.97},{"x":-0.3,"y":0.7,"v":0.98},{"x":-0.1,"y":0.7,"v":0.97},{"x":0.1,"y":0.7,"v":0.95},{"x":0.3,"y":0.7,"v":0.92},{"x":0.5,"y":0.7,"v":0.88},{"x":0.7,"y":0.7,"v":0.83},{"x":0.9,"y":0.7,"v":0.78},{"x":1.1,"y":0.7,"v":0.73},{"x":1.3,"y":0.7,"v":0.66},{"x":1.5,"y":0.7,"v":0.57},{"x":1.7,"y":0.7,"v":0.47},{"x":1.9,"y":0.7,"v":0.37},{"x":2.1,"y":0.7,"v":0.25},
{"x":-2.1,"y":0.5,"v":0.46},{"x":-1.9,"y":0.5,"v":0.57},{"x":-1.7,"y":0.5,"v":0.64},{"x":-1.5,"y":0.5,"v":0.71},{"x":-1.3,"y":0.5,"v":0.78},{"x":-1.1,"y":0.5,"v":0.83},{"x":-0.9,"y":0.5,"v":0.87},{"x":-0.7,"y":0.5,"v":0.9},{"x":-0.5,"y":0.5,"v":0.91},{"x":-0.3,"y":0.5,"v":0.92},{"x":-0.1,"y":0.5,"v":0.91},{"x":0.1,"y":0.5,"v":0.89},{"x":0.3,"y":0.5,"v":0.86},{"x":0.5,"y":0.5,"v":0.83},{"x":0.7,"y":0.5,"v":0.78},{"x":0.9,"y":0.5,"v":0.74},{"x":1.1,"y":0.5,"v":0.68},{"x":1.3,"y":0.5,"v":0.62},{"x":1.5,"y":0.5,"v":0.53},{"x":1.7,"y":0.5,"v":0.44},{"x":1.9,"y":0.5,"v":0.35},{"x":2.1,"y":0.5,"v":0.23},
{"x":-2.1,"y":0.3,"v":0.38},{"x":-1.9,"y":0.3,"v":0.47},{"x":-1.7,"y":0.3,"v":0.53},{"x":-1.5,"y":0.3,"v":0.59},{"x":-1.3,"y":0.3,"v":0.65},{"x":-1.1,"y":0.3,"v":0.68},{"x":-0.9,"y":0.3,"v":0.72},{"x":-0.7,"y":0.3,"v":0.74},{"x":-0.5,"y":0.3,"v":0.75},{"x":-0.3,"y":0.3,"v":0.76},{"x":-0.1,"y":0.3,"v":0.75},{"x":0.1,"y":0.3,"v":0.74},{"x":0.3,"y":0.3,"v":0.71},{"x":0.5,"y":0.3,"v":0.68},{"x":0.7,"y":0.3,"v":0.65},{"x":0.9,"y":0.3,"v":0.61},{"x":1.1,"y":0.3,"v":0.56},{"x":1.3,"y":0.3,"v":0.51},{"x":1.5,"y":0.3,"v":0.44},{"x":1.7,"y":0.3,"v":0.36},{"x":1.9,"y":0.3,"v":0.29},{"x":2.1,"y":0.3,"v":0.19},
{"x":-2.1,"y":0.1,"v":0.23},{"x":-1.9,"y":0.1,"v":0.28},{"x":-1.7,"y":0.1,"v":0.32},{"x":-1.5,"y":0.1,"v":0.35},{"x":-1.3,"y":0.1,"v":0.38},{"x":-1.1,"y":0.1,"v":0.41},{"x":-0.9,"y":0.1,"v":0.43},{"x":-0.7,"y":0.1,"v":0.44},{"x":-0.5,"y":0.1,"v":0.45},{"x":-0.3,"y":0.1,"v":0.45},{"x":-0.1,"y":0.1,"v":0.45},{"x":0.1,"y":0.1,"v":0.44},{"x":0.3,"y":0.1,"v":0.42},{"x":0.5,"y":0.1,"v":0.41},{"x":0.7,"y":0.1,"v":0.38},{"x":0.9,"y":0.1,"v":0.36},{"x":1.1,"y":0.1,"v":0.33},{"x":1.3,"y":0.1,"v":0.3},{"x":1.5,"y":0.1,"v":0.26},{"x":1.7,"y":0.1,"v":0.22},{"x":1.9,"y":0.1,"v":0.17},{"x":2.1,"y":0.1,"v":0.11},
{"x":-2.1,"y":-0.1,"v":0.03},{"x":-1.9,"y":-0.1,"v":0.03},{"x":-1.7,"y":-0.1,"v":0.04},{"x":-1.5,"y":-0.1,"v":0.04},{"x":-1.3,"y":-0.1,"v":0.04},{"x":-1.1,"y":-0.1,"v":0.05},{"x":-0.9,"y":-0.1,"v":0.05},{"x":-0.7,"y":-0.1,"v":0.05},{"x":-0.5,"y":-0.1,"v":0.05},{"x":-0.3,"y":-0.1,"v":0.05},{"x":-0.1,"y":-0.1,"v":0.05},{"x":0.1,"y":-0.1,"v":0.05},{"x":0.3,"y":-0.1,"v":0.05},{"x":0.5,"y":-0.1,"v":0.05},{"x":0.7,"y":-0.1,"v":0.04},{"x":0.9,"y":-0.1,"v":0.04},{"x":1.1,"y":-0.1,"v":0.04},{"x":1.3,"y":-0.1,"v":0.03},{"x":1.5,"y":-0.1,"v":0.03},{"x":1.7,"y":-0.1,"v":0.02},{"x":1.9,"y":-0.1,"v":0.02},{"x":2.1,"y":-0.1,"v":0.01},
{"x":-2.1,"y":-0.3,"v":0.01},{"x":-1.9,"y":-0.3,"v":0.01},{"x":-1.7,"y":-0.3,"v":0.01},{"x":-1.5,"y":-0.3,"v":0.01},{"x":-1.3,"y":-0.3,"v":0.01},{"x":-1.1,"y":-0.3,"v":0.01},{"x":-0.9,"y":-0.3,"v":0.01},{"x":-0.7,"y":-0.3,"v":0.01},{"x":-0.5,"y":-0.3,"v":0.01},{"x":-0.3,"y":-0.3,"v":0.01},{"x":-0.1,"y":-0.3,"v":0.01},{"x":0.1,"y":-0.3,"v":0.01},{"x":0.3,"y":-0.3,"v":0.01},{"x":0.5,"y":-0.3,"v":0.01},{"x":0.7,"y":-0.3,"v":0.01},{"x":0.9,"y":-0.3,"v":0.01},{"x":1.1,"y":-0.3,"v":0.01},{"x":1.3,"y":-0.3,"v":0.01},{"x":1.5,"y":-0.3,"v":0.01},{"x":1.7,"y":-0.3,"v":0.01},{"x":1.9,"y":-0.3,"v":0.01},{"x":2.1,"y":-0.3,"v":0.01},
{"x":-2.1,"y":-0.5,"v":0.01},{"x":-1.9,"y":-0.5,"v":0.01},{"x":-1.7,"y":-0.5,"v":0.01},{"x":-1.5,"y":-0.5,"v":0.01},{"x":-1.3,"y":-0.5,"v":0.01},{"x":-1.1,"y":-0.5,"v":0.01},{"x":-0.9,"y":-0.5,"v":0.01},{"x":-0.7,"y":-0.5,"v":0.01},{"x":-0.5,"y":-0.5,"v":0.01},{"x":-0.3,"y":-0.5,"v":0.01},{"x":-0.1,"y":-0.5,"v":0.01},{"x":0.1,"y":-0.5,"v":0.01},{"x":0.3,"y":-0.5,"v":0.01},{"x":0.5,"y":-0.5,"v":0.01},{"x":0.7,"y":-0.5,"v":0.01},{"x":0.9,"y":-0.5,"v":0.01},{"x":1.1,"y":-0.5,"v":0.01},{"x":1.3,"y":-0.5,"v":0.01},{"x":1.5,"y":-0.5,"v":0.01},{"x":1.7,"y":-0.5,"v":0.01},{"x":1.9,"y":-0.5,"v":0.01},{"x":2.1,"y":-0.5,"v":0.01},
{"x":-2.1,"y":-0.7,"v":0.01},{"x":-1.9,"y":-0.7,"v":0.01},{"x":-1.7,"y":-0.7,"v":0.01},{"x":-1.5,"y":-0.7,"v":0.01},{"x":-1.3,"y":-0.7,"v":0.01},{"x":-1.1,"y":-0.7,"v":0.01},{"x":-0.9,"y":-0.7,"v":0.01},{"x":-0.7,"y":-0.7,"v":0.01},{"x":-0.5,"y":-0.7,"v":0.01},{"x":-0.3,"y":-0.7,"v":0.01},{"x":-0.1,"y":-0.7,"v":0.01},{"x":0.1,"y":-0.7,"v":0.01},{"x":0.3,"y":-0.7,"v":0.01},{"x":0.5,"y":-0.7,"v":0.01},{"x":0.7,"y":-0.7,"v":0.01},{"x":0.9,"y":-0.7,"v":0.01},{"x":1.1,"y":-0.7,"v":0.01},{"x":1.3,"y":-0.7,"v":0.01},{"x":1.5,"y":-0.7,"v":0.01},{"x":1.7,"y":-0.7,"v":0.01},{"x":1.9,"y":-0.7,"v":0.01},{"x":2.1,"y":-0.7,"v":0.01},
{"x":-2.1,"y":-0.9,"v":0.01},{"x":-1.9,"y":-0.9,"v":0.01},{"x":-1.7,"y":-0.9,"v":0.01},{"x":-1.5,"y":-0.9,"v":0.01},{"x":-1.3,"y":-0.9,"v":0.01},{"x":-1.1,"y":-0.9,"v":0.01},{"x":-0.9,"y":-0.9,"v":0.01},{"x":-0.7,"y":-0.9,"v":0.01},{"x":-0.5,"y":-0.9,"v":0.01},{"x":-0.3,"y":-0.9,"v":0.01},{"x":-0.1,"y":-0.9,"v":0.01},{"x":0.1,"y":-0.9,"v":0.01},{"x":0.3,"y":-0.9,"v":0.01},{"x":0.5,"y":-0.9,"v":0.01},{"x":0.7,"y":-0.9,"v":0.01},{"x":0.9,"y":-0.9,"v":0.01},{"x":1.1,"y":-0.9,"v":0.01},{"x":1.3,"y":-0.9,"v":0.01},{"x":1.5,"y":-0.9,"v":0.01},{"x":1.7,"y":-0.9,"v":0.01},{"x":1.9,"y":-0.9,"v":0.01},{"x":2.1,"y":-0.9,"v":0.01},
{"x":-2.1,"y":-1.1,"v":0.01},{"x":-1.9,"y":-1.1,"v":0.01},{"x":-1.7,"y":-1.1,"v":0.01},{"x":-1.5,"y":-1.1,"v":0.01},{"x":-1.3,"y":-1.1,"v":0.01},{"x":-1.1,"y":-1.1,"v":0.01},{"x":-0.9,"y":-1.1,"v":0.01},{"x":-0.7,"y":-1.1,"v":0.01},{"x":-0.5,"y":-1.1,"v":0.01},{"x":-0.3,"y":-1.1,"v":0.01},{"x":-0.1,"y":-1.1,"v":0.01},{"x":0.1,"y":-1.1,"v":0.01},{"x":0.3,"y":-1.1,"v":0.01},{"x":0.5,"y":-1.1,"v":0.01},{"x":0.7,"y":-1.1,"v":0.01},{"x":0.9,"y":-1.1,"v":0.01},{"x":1.1,"y":-1.1,"v":0.01},{"x":1.3,"y":-1.1,"v":0.01},{"x":1.5,"y":-1.1,"v":0.01},{"x":1.7,"y":-1.1,"v":0.01},{"x":1.9,"y":-1.1,"v":0.01},{"x":2.1,"y":-1.1,"v":0.01},
{"x":-2.1,"y":-1.3,"v":0.01},{"x":-1.9,"y":-1.3,"v":0.01},{"x":-1.7,"y":-1.3,"v":0.01},{"x":-1.5,"y":-1.3,"v":0.01},{"x":-1.3,"y":-1.3,"v":0.01},{"x":-1.1,"y":-1.3,"v":0.01},{"x":-0.9,"y":-1.3,"v":0.01},{"x":-0.7,"y":-1.3,"v":0.01},{"x":-0.5,"y":-1.3,"v":0.01},{"x":-0.3,"y":-1.3,"v":0.01},{"x":-0.1,"y":-1.3,"v":0.01},{"x":0.1,"y":-1.3,"v":0.01},{"x":0.3,"y":-1.3,"v":0.01},{"x":0.5,"y":-1.3,"v":0.01},{"x":0.7,"y":-1.3,"v":0.01},{"x":0.9,"y":-1.3,"v":0.01},{"x":1.1,"y":-1.3,"v":0.01},{"x":1.3,"y":-1.3,"v":0.01},{"x":1.5,"y":-1.3,"v":0.01},{"x":1.7,"y":-1.3,"v":0.01},{"x":1.9,"y":-1.3,"v":0.01},{"x":2.1,"y":-1.3,"v":0.01}
],
"bar": [{"x":0.1,"y":0.82},{"x":2,"y":0.82}],
"lab1": [{"x":2.99,"y":-0.13,"t":"fⱼ"}],
"lab2": [{"x":2.97,"y":-0.25,"t":"Sⱼˣ"}],
"box": [{"x0":0,"x1":1,"y0":0,"y1":1}],
"inset": [
{"s":"Edge","x":0,"y":0.98},{"s":"Edge","x":0.15,"y":0.97},{"s":"Edge","x":0.26,"y":0.93},{"s":"Edge","x":0.38,"y":0.81},{"s":"Edge","x":0.49,"y":0.67},{"s":"Edge","x":0.6,"y":0.53},{"s":"Edge","x":0.71,"y":0.39},{"s":"Edge","x":0.83,"y":0.29},{"s":"Edge","x":0.94,"y":0.23},{"s":"Edge","x":1,"y":0.21},
{"s":"Bulk","x":0,"y":0.99},{"s":"Bulk","x":0.23,"y":0.98},{"s":"Bulk","x":0.34,"y":0.94},{"s":"Bulk","x":0.45,"y":0.89},{"s":"Bulk","x":0.57,"y":0.78},{"s":"Bulk","x":0.68,"y":0.67},{"s":"Bulk","x":0.79,"y":0.57},{"s":"Bulk","x":0.87,"y":0.51},{"s":"Bulk","x":0.94,"y":0.45},{"s":"Bulk","x":1,"y":0.41}
],
"links": [{"k":"a","x":-0.015,"y":1.82},{"k":"a","x":0.29,"y":0.91},{"k":"b","x":2.08,"y":1.81},{"k":"b","x":0.865,"y":0.52}]
},
"columns": 2,
"spacing": {"row": 20, "column": 14},
"bounds": "flush",
"resolve": {"scale": {"color": "independent"}},
"concat": [
{
 "width": 228, "height": 141,
 "title": {"text": "Edge", "dx": 4},
 "data": {"name": "tl"},
 "mark": {"type": "rect", "width": 10.9, "height": 10.6},
 "encoding": {
  "x": {"field": "x", "type": "quantitative", "scale": {"domain": [-2.2, 2.2], "nice": false, "zero": false}, "axis": null},
  "y": {"field": "y", "type": "quantitative", "scale": {"domain": [-1.4, 1.4], "nice": false, "zero": false}, "title": "Δ",
    "axis": {"values": [-1.4, 1.4], "format": ".1f", "labelPadding": 2, "labelBaseline": "alphabetic", "labelOffset": {"condition": {"test": "datum.value > 0", "value": 13}, "value": 0}, "titleAngle": 0, "titleX": -16, "titleY": 54, "titleAlign": "right", "titleBaseline": "middle"}},
  "color": {"field": "v", "type": "quantitative", "scale": {"type": "linear", "domain": [0, 0.5, 0.6667, 0.75, 1], "range": ["#000000", "#bf0000", "#ff5500", "#ff8000", "#ffffff"], "interpolate": "rgb"}, "legend": null}
 }
},
{
 "width": 228, "height": 141,
 "title": {"text": "Bulk", "dx": 13},
 "layer": [
  {
   "data": {"name": "tr"},
   "mark": {"type": "rect", "width": 10.9, "height": 10.6},
   "encoding": {
    "x": {"field": "x", "type": "quantitative", "scale": {"domain": [-2.2, 2.2], "nice": false, "zero": false}, "axis": null},
    "y": {"field": "y", "type": "quantitative", "scale": {"domain": [-1.4, 1.4], "nice": false, "zero": false}, "axis": null},
    "color": {"field": "v", "type": "quantitative", "scale": {"type": "linear", "domain": [0, 0.5, 0.6667, 0.75, 1], "range": ["#000000", "#bf0000", "#ff5500", "#ff8000", "#ffffff"], "interpolate": "rgb"},
      "legend": {"values": [0, 1], "format": "d", "title": null, "encode": {"labels": {"update": {"baseline": {"value": "middle"}, "dy": {"signal": "datum.perc > 0.5 ? 2 : -3"}}}}}}
   }
  },
  {
   "data": {"name": "lab1"},
   "mark": {"type": "text", "font": "Liberation Serif", "fontSize": 27, "fontStyle": "italic", "align": "center", "baseline": "middle", "color": "#000"},
   "encoding": {
    "x": {"field": "x", "type": "quantitative", "scale": {"domain": [-2.2, 2.2], "nice": false, "zero": false}, "axis": null},
    "y": {"field": "y", "type": "quantitative", "scale": {"domain": [-1.4, 1.4], "nice": false, "zero": false}, "axis": null},
    "text": {"field": "t"}
   }
  }
 ]
},
{
 "width": 228, "height": 141,
 "layer": [
  {
   "data": {"name": "bl"},
   "mark": {"type": "rect", "width": 10.9, "height": 10.6},
   "encoding": {
    "x": {"field": "x", "type": "quantitative", "scale": {"domain": [-2.2, 2.2], "nice": false, "zero": false}, "title": "μ",
      "axis": {"values": [-2, 2], "format": "d", "labelPadding": 0, "labelBaseline": "top", "titleY": 28, "titleBaseline": "alphabetic", "titleFontStyle": "italic"}},
    "y": {"field": "y", "type": "quantitative", "scale": {"domain": [-1.4, 1.4], "nice": false, "zero": false}, "title": "Δ",
      "axis": {"values": [-1.4, 1.4], "format": ".1f", "labelPadding": 2, "labelBaseline": "alphabetic", "labelOffset": {"condition": {"test": "datum.value > 0", "value": 13}, "value": 0}, "titleAngle": 0, "titleX": -16, "titleY": 56, "titleAlign": "right", "titleBaseline": "middle"}},
    "color": {"field": "v", "type": "quantitative", "scale": {"type": "linear", "domain": [0, 0.5, 0.6667, 0.75, 1], "range": ["#000000", "#bf0000", "#ff5500", "#ff8000", "#ffffff"], "interpolate": "rgb"}, "legend": null}
   }
  },
  {
   "data": {"name": "bar"},
   "mark": {"type": "line", "color": "#ff0000", "strokeWidth": 4, "strokeCap": "butt"},
   "encoding": {
    "x": {"field": "x", "type": "quantitative", "scale": {"domain": [-2.2, 2.2], "nice": false, "zero": false}, "title": "μ",
      "axis": {"values": [-2, 2], "format": "d", "labelPadding": 0, "labelBaseline": "top", "titleY": 28, "titleBaseline": "alphabetic", "titleFontStyle": "italic"}},
    "y": {"field": "y", "type": "quantitative", "scale": {"domain": [-1.4, 1.4], "nice": false, "zero": false}, "title": "Δ",
      "axis": {"values": [-1.4, 1.4], "format": ".1f", "labelPadding": 2, "labelBaseline": "alphabetic", "labelOffset": {"condition": {"test": "datum.value > 0", "value": 13}, "value": 0}, "titleAngle": 0, "titleX": -16, "titleY": 56, "titleAlign": "right", "titleBaseline": "middle"}}
   }
  }
 ]
},
{
 "width": 228, "height": 141,
 "layer": [
  {
   "layer": [
    {
     "data": {"name": "br"},
     "mark": {"type": "rect", "width": 10.9, "height": 10.6},
     "encoding": {
      "x": {"field": "x", "type": "quantitative", "scale": {"domain": [-2.2, 2.2], "nice": false, "zero": false}, "title": "μ",
        "axis": {"values": [-2, 2], "format": "d", "labelPadding": 0, "labelBaseline": "top", "titleY": 28, "titleBaseline": "alphabetic", "titleFontStyle": "italic"}},
      "y": {"field": "y", "type": "quantitative", "scale": {"domain": [-1.4, 1.4], "nice": false, "zero": false}, "axis": null},
      "color": {"field": "v", "type": "quantitative", "scale": {"type": "linear", "domain": [0, 0.5, 0.6667, 0.75, 1], "range": ["#000000", "#bf0000", "#ff5500", "#ff8000", "#ffffff"], "interpolate": "rgb"},
        "legend": {"values": [0, 1], "format": "d", "title": null, "encode": {"labels": {"update": {"baseline": {"value": "middle"}, "dy": {"signal": "datum.perc > 0.5 ? 2 : -3"}}}}}}
     }
    },
    {
     "data": {"name": "bar"},
     "mark": {"type": "line", "color": "#008000", "strokeWidth": 4, "strokeCap": "butt"},
     "encoding": {
      "x": {"field": "x", "type": "quantitative", "scale": {"domain": [-2.2, 2.2], "nice": false, "zero": false}, "title": "μ",
        "axis": {"values": [-2, 2], "format": "d", "labelPadding": 0, "labelBaseline": "top", "titleY": 28, "titleBaseline": "alphabetic", "titleFontStyle": "italic"}},
      "y": {"field": "y", "type": "quantitative", "scale": {"domain": [-1.4, 1.4], "nice": false, "zero": false}, "axis": null}
     }
    },
    {
     "data": {"name": "lab2"},
     "mark": {"type": "text", "font": "Liberation Serif", "fontSize": 27, "fontStyle": "italic", "align": "center", "baseline": "middle", "color": "#000"},
     "encoding": {
      "x": {"field": "x", "type": "quantitative", "scale": {"domain": [-2.2, 2.2], "nice": false, "zero": false}, "title": "μ",
        "axis": {"values": [-2, 2], "format": "d", "labelPadding": 0, "labelBaseline": "top", "titleY": 28, "titleBaseline": "alphabetic", "titleFontStyle": "italic"}},
      "y": {"field": "y", "type": "quantitative", "scale": {"domain": [-1.4, 1.4], "nice": false, "zero": false}, "axis": null},
      "text": {"field": "t"}
     }
    }
   ]
  },
  {
   "layer": [
    {
     "data": {"name": "box"},
     "mark": {"type": "rect", "fill": "#ffffff", "stroke": "#555555", "strokeWidth": 1.5},
     "encoding": {
      "x": {"field": "x0", "type": "quantitative", "scale": {"domain": [0, 1], "range": [-54, 35], "nice": false, "zero": false}, "axis": null},
      "x2": {"field": "x1"},
      "y": {"field": "y0", "type": "quantitative", "scale": {"domain": [0, 1], "range": [136, 77], "nice": false, "zero": false}, "axis": null},
      "y2": {"field": "y1"}
     }
    },
    {
     "data": {"name": "inset"},
     "mark": {"type": "line", "strokeWidth": 2, "interpolate": "monotone"},
     "encoding": {
      "x": {"field": "x", "type": "quantitative", "scale": {"domain": [0, 1], "range": [-54, 35], "nice": false, "zero": false}, "axis": null},
      "y": {"field": "y", "type": "quantitative", "scale": {"domain": [0, 1], "range": [136, 77], "nice": false, "zero": false}, "axis": null},
      "color": {"field": "s", "type": "nominal", "scale": {"domain": ["Edge", "Bulk"], "range": ["#ff0000", "#008000"]}, "legend": null}
     }
    },
    {
     "data": {"name": "links"},
     "mark": {"type": "line", "color": "#0000ff", "strokeWidth": 1.5},
     "encoding": {
      "x": {"field": "x", "type": "quantitative", "scale": {"domain": [0, 1], "range": [-54, 35], "nice": false, "zero": false}, "axis": null},
      "y": {"field": "y", "type": "quantitative", "scale": {"domain": [0, 1], "range": [136, 77], "nice": false, "zero": false}, "axis": null},
      "detail": {"field": "k", "type": "nominal"}
     }
    }
   ]
  }
 ],
 "resolve": {"scale": {"x": "independent", "y": "independent", "color": "independent"}}
}
]
}
